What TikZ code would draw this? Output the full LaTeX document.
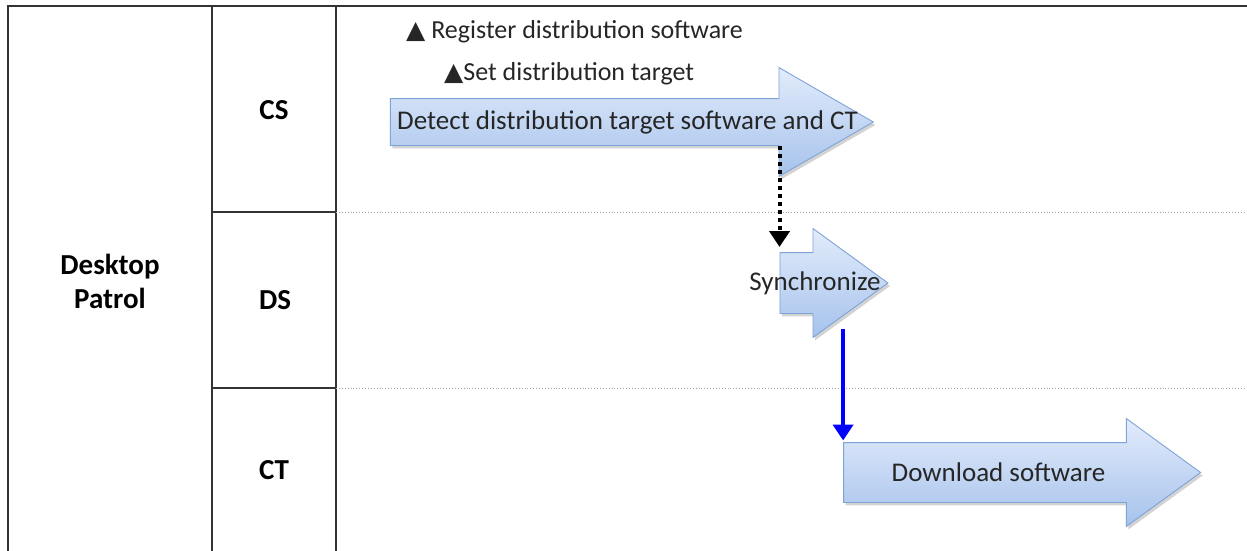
\documentclass[tikz,border=0pt]{standalone}
\usepackage{fontspec}
\setmainfont{Carlito}
\newfontfamily\symfont{DejaVu Sans}
\usepackage{tikz}
\usetikzlibrary{shapes.arrows,arrows.meta,positioning,calc,shadows}
\definecolor{framegray}{HTML}{333333}
\definecolor{steptop}{HTML}{E2ECFB}
\definecolor{stepbot}{HTML}{A6C2EC}
\definecolor{stepline}{HTML}{7FA3D6}
\tikzset{
  lane/.style={draw=framegray, line width=1.4pt},
  lanesep/.style={draw=gray!70, dotted, line width=0.9pt},
  lanelabel/.style={font=\fontsize{29}{34}\selectfont\bfseries, align=center},
  stepbox/.style={single arrow, draw=stepline, line width=0.9pt,
    top color=steptop, bottom color=stepbot, shape border rotate=0,
    inner xsep=0pt, text height=0pt, text depth=0pt,
    single arrow head indent=0pt,
    drop shadow={shadow xshift=2pt, shadow yshift=-3pt, opacity=0.35, fill=gray}},
  steptext/.style={font=\fontsize{27}{30}\selectfont, text=black!85},
  note/.style={font=\fontsize{26}{30}\selectfont, text=black!85, anchor=west, inner sep=0pt},
  syncline/.style={line width=4pt, dash pattern=on 4pt off 4pt,
    -{Triangle[width=20pt,length=16pt]}},
  pushline/.style={blue, line width=4pt, -{Triangle[width=20pt,length=16pt]}}
}
\newcommand{\tri}{{\symfont\fontsize{25}{25}\selectfont ▲}}
\begin{document}
\begin{tikzpicture}[x=1pt,y=-1pt]
  \useasboundingbox (0,0) rectangle (1247,551);
  % swimlane frame
  \draw[lane] (8,551) -- (8,6) -- (1247,6);
  \draw[lane] (212,6) -- (212,551);
  \draw[lane] (336,6) -- (336,551);
  \draw[lane] (212,212) -- (336,212);
  \draw[lane] (212,388) -- (336,388);
  \draw[lanesep] (336,212) -- (1247,212);
  \draw[lanesep] (336,388) -- (1247,388);

  % lane names
  \node[lanelabel] (dp) at (110,281) {Desktop\\Patrol};
  \node[lanelabel] (cs) at (274,110) {CS};
  \node[lanelabel] (ds) at (275,300) {DS};
  \node[lanelabel] (ct) at (274,470) {CT};

  % notes
  \node[note] (reg) at (406,32) {\tri\ Register distribution software};
  \node[note] (set) at (444,74) {\tri Set distribution target};

  % steps
  \node[stepbox, minimum height=483pt, inner ysep=23pt,
    single arrow head extend=31pt, single arrow tip angle=60] (detect) at (611.5,122) {};
  \node[steptext] (detecttxt) at ([xshift=16pt]detect.center) {Detect distribution target software and CT};

  \node[stepbox, minimum height=108pt, inner ysep=30pt,
    single arrow head extend=24pt, single arrow tip angle=72] (sync) at (813,283) {};
  \node[steptext] (synctxt) at ([xshift=2pt]sync.center) {Synchronize};

  \node[stepbox, minimum height=357pt, inner ysep=29.5pt,
    single arrow head extend=24pt, single arrow tip angle=72] (down) at (1001.5,472.5) {};
  \node[steptext] (downtxt) at ([xshift=-3pt]down.center) {Download software};

  % connectors
  \draw[syncline] (detect.south -| sync.west) -- ([yshift=36pt]sync.west);
  \draw[pushline] ([yshift=-46pt]sync.center -| down.west) -- ([yshift=32pt]down.west);
\end{tikzpicture}
\end{document}
